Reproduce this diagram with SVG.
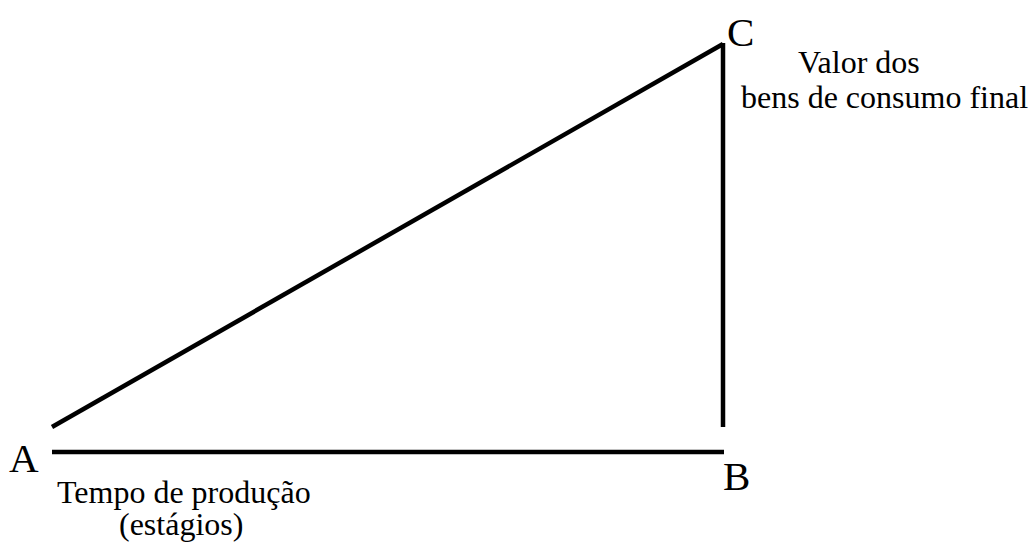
<svg xmlns="http://www.w3.org/2000/svg" width="1029" height="542" viewBox="0 0 1029 542">
<style>
.ln{stroke:#000;stroke-width:4.5;fill:none;stroke-linecap:butt}
.lbl{font-family:"Liberation Serif","Times New Roman",serif;fill:#000}
.big{font-size:41px}
.txt{font-size:32px}
</style>
<rect width="1029" height="542" fill="#fff"/>
<g id="connectors">
<line class="ln" x1="52" y1="427" x2="723" y2="44"/>
<line class="ln" x1="723" y1="43" x2="723" y2="427"/>
<line class="ln" x1="52" y1="452" x2="724" y2="452"/>
</g>
<g id="A"><text class="lbl big" x="9" y="472">A</text></g>
<g id="B"><text class="lbl big" x="723" y="490">B</text></g>
<g id="C"><text class="lbl big" x="727" y="46">C</text></g>
<g id="label-time">
<text class="lbl txt" x="57" y="503">Tempo de produção</text>
<text class="lbl txt" x="119" y="535">(estágios)</text>
</g>
<g id="label-value">
<text class="lbl txt" x="798" y="73">Valor dos</text>
<text class="lbl txt" x="741" y="108">bens de consumo final</text>
</g>
</svg>
